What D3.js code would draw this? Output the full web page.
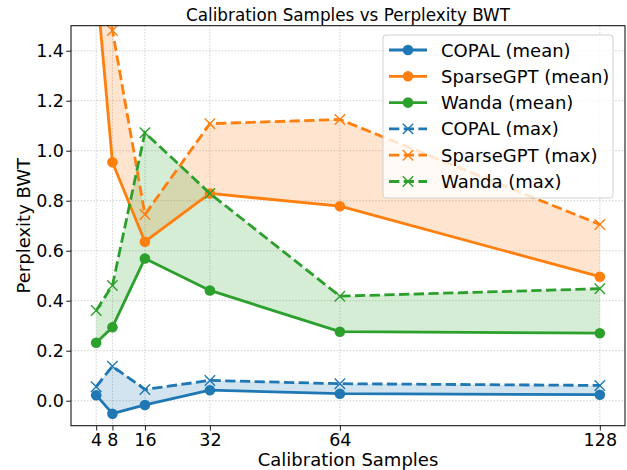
<!DOCTYPE html>
<html><head><meta charset="utf-8">
<script src="https://cdn.jsdelivr.net/npm/d3@7"></script>
<style>body{margin:0;background:#fff}svg{display:block}text{font-family:"DejaVu Sans",sans-serif;fill:#000}</style>
</head><body><svg id="c" width="627" height="470"></svg>
<script>
const samples = [4, 8, 16, 32, 64, 128];
const xTicks = [4, 8, 16, 32, 64, 128];
const yTicks = [0.0, 0.2, 0.4, 0.6, 0.8, 1.0, 1.2, 1.4];
const methods = ["COPAL", "SparseGPT", "Wanda"];
const colors = ["#1f77b4", "#ff7f0e", "#2ca02c"];
const copalMean = [0.022, -0.052, -0.017, 0.042, 0.028, 0.024];
const copalMax = [0.056, 0.138, 0.045, 0.081, 0.068, 0.061];
const sparseMean = [1.68, 0.954, 0.636, 0.829, 0.778, 0.496];
const sparseMax = [2.2, 1.481, 0.745, 1.108, 1.125, 0.705];
const wandaMean = [0.232, 0.294, 0.569, 0.441, 0.276, 0.270];
const wandaMax = [0.361, 0.461, 1.072, 0.829, 0.418, 0.448];
const means = [copalMean, sparseMean, wandaMean];
const maxes = [copalMax, sparseMax, wandaMax];

const svg = d3.select("#c");
const L = 71, R = 625, T = 25.7, B = 425.7;
const x = d3.scaleLinear().domain([-2.2, 134.2]).range([L, R]);
const y = d3.scaleLinear().domain([-0.1, 1.5]).range([B, T]);

svg.append("defs").append("clipPath").attr("id", "clip")
  .append("rect").attr("x", L).attr("y", T).attr("width", R - L).attr("height", B - T);

// grid
const g = svg.append("g");
g.selectAll(".gx").data(xTicks).enter().append("line")
  .attr("x1", d => x(d)).attr("x2", d => x(d)).attr("y1", T).attr("y2", B)
  .attr("stroke", "#b0b0b0").attr("stroke-width", 0.8).attr("stroke-dasharray", "1.6,1.6").attr("opacity", 0.7);
g.selectAll(".gy").data(yTicks).enter().append("line")
  .attr("y1", d => y(d)).attr("y2", d => y(d)).attr("x1", L).attr("x2", R)
  .attr("stroke", "#b0b0b0").attr("stroke-width", 0.8).attr("stroke-dasharray", "1.6,1.6").attr("opacity", 0.7);

const plot = svg.append("g").attr("clip-path", "url(#clip)");

// fills
methods.forEach((m, i) => {
  const area = d3.area().x((d, j) => x(samples[j])).y0((d, j) => y(means[i][j])).y1((d, j) => y(maxes[i][j]));
  plot.append("path").datum(samples).attr("d", area).attr("fill", colors[i]).attr("fill-opacity", 0.2);
});

const line = arr => d3.line().x((d, j) => x(samples[j])).y((d, j) => y(arr[j]));
const dash = "10.3,4.4";
// mean lines
methods.forEach((m, i) => {
  plot.append("path").datum(samples).attr("d", line(means[i])).attr("fill", "none")
    .attr("stroke", colors[i]).attr("stroke-width", 2.8).attr("stroke-linejoin", "round");
  plot.selectAll(null).data(samples).enter().append("circle")
    .attr("cx", d => x(d)).attr("cy", (d, j) => y(means[i][j])).attr("r", 5.3).attr("fill", colors[i]);
});
// max lines
const xMark = (sel, cx, cy, c) => {
  const s = 5.2;
  sel.append("path").attr("d", `M${cx - s},${cy - s}L${cx + s},${cy + s}M${cx - s},${cy + s}L${cx + s},${cy - s}`)
    .attr("stroke", c).attr("stroke-width", 1.4).attr("fill", "none");
};
methods.forEach((m, i) => {
  plot.append("path").datum(samples).attr("d", line(maxes[i])).attr("fill", "none")
    .attr("stroke", colors[i]).attr("stroke-width", 2.8).attr("stroke-dasharray", dash);
  samples.forEach((d, j) => xMark(plot, x(d), y(maxes[i][j]), colors[i]));
});

// axes
const xa = svg.append("g").attr("transform", `translate(0,${B})`)
  .call(d3.axisBottom(x).tickValues(xTicks).tickFormat(d3.format("d")).tickSize(4.8).tickPadding(2.6));
const ya = svg.append("g").attr("transform", `translate(${L},0)`)
  .call(d3.axisLeft(y).tickValues(yTicks).tickFormat(d3.format(".1f")).tickSize(4.8).tickPadding(2.2));
[xa, ya].forEach(a => {
  a.select(".domain").remove();
  a.selectAll("line").attr("stroke", "#000").attr("stroke-width", 0.9);
  a.selectAll("text").attr("font-size", 17.5).attr("font-family", "DejaVu Sans");
});
svg.append("rect").attr("x", L).attr("y", T).attr("width", R - L).attr("height", B - T)
  .attr("fill", "none").attr("stroke", "#000").attr("stroke-width", 1);

// labels
svg.append("text").attr("x", (L + R) / 2).attr("y", 20.5).attr("text-anchor", "middle").attr("font-size", 16.8)
  .text("Calibration Samples vs Perplexity BWT");
svg.append("text").attr("x", (L + R) / 2).attr("y", 466).attr("text-anchor", "middle").attr("font-size", 18)
  .text("Calibration Samples");
svg.append("text").attr("transform", `translate(30,${(T + B) / 2}) rotate(-90)`).attr("text-anchor", "middle")
  .attr("font-size", 18).text("Perplexity BWT");

// legend
const leg = svg.append("g");
leg.append("rect").attr("x", 383).attr("y", 35).attr("width", 230).attr("height", 163).attr("rx", 3)
  .attr("fill", "#fff").attr("fill-opacity", 0.8).attr("stroke", "#d0d0d0").attr("stroke-width", 1);
const entries = [];
methods.forEach((m, i) => entries.push({label: m + " (mean)", c: colors[i], dash: false}));
methods.forEach((m, i) => entries.push({label: m + " (max)", c: colors[i], dash: true}));
entries.forEach((e, k) => {
  const yy = 50 + k * 26.3;
  leg.append("line").attr("x1", 389).attr("x2", 427).attr("y1", yy).attr("y2", yy)
    .attr("stroke", e.c).attr("stroke-width", 2.8).attr("stroke-dasharray", e.dash ? dash : null);
  if (e.dash) xMark(leg, 408, yy, e.c);
  else leg.append("circle").attr("cx", 408).attr("cy", yy).attr("r", 5.3).attr("fill", e.c);
  leg.append("text").attr("x", 441).attr("y", yy + 6.5).attr("font-size", 18).text(e.label);
});
</script></body></html>
